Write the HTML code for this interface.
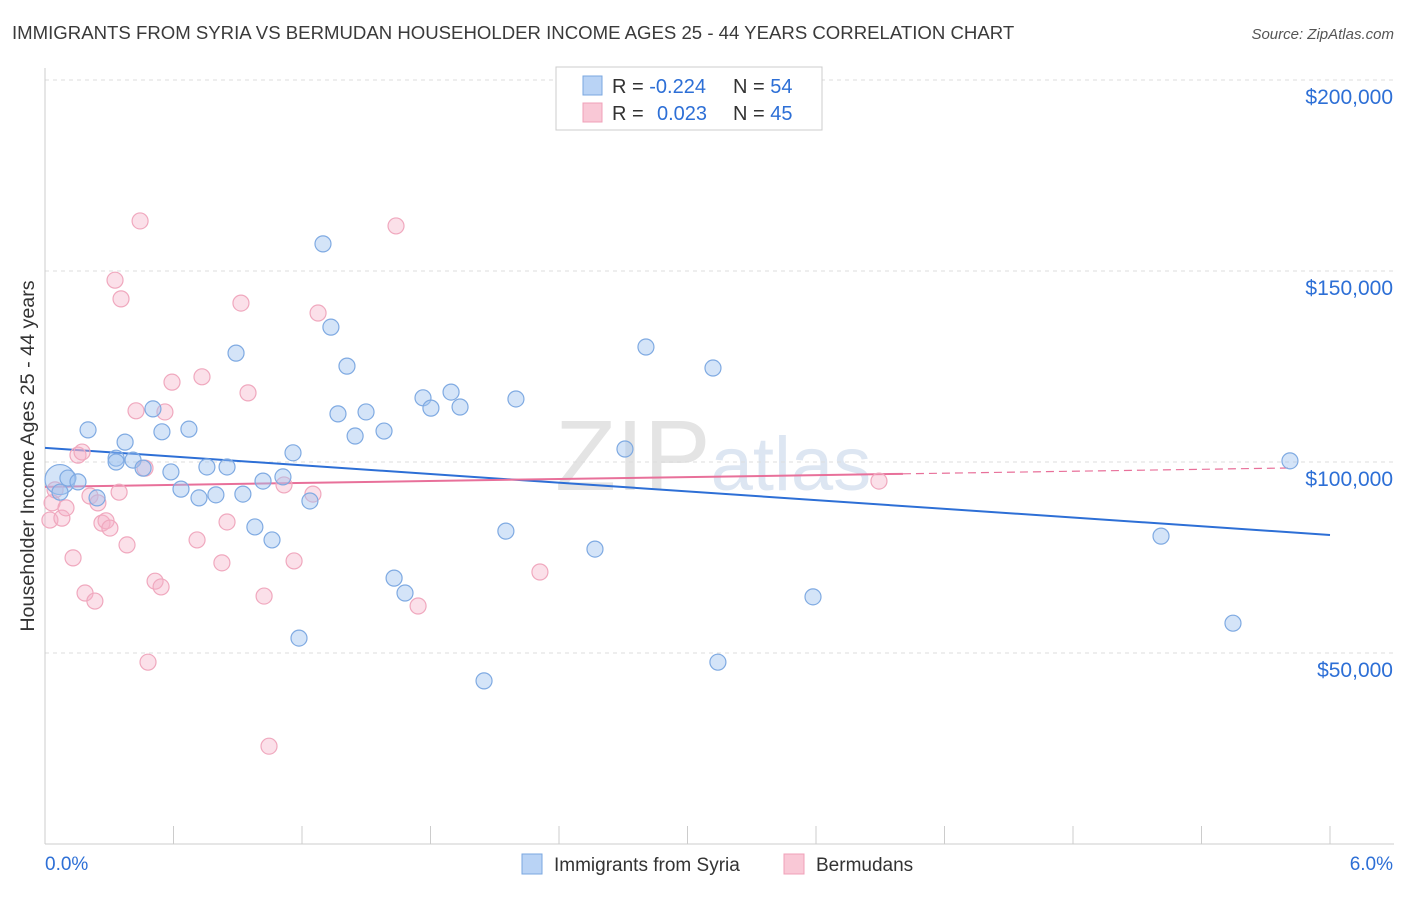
<!DOCTYPE html>
<html><head><meta charset="utf-8"><style>
body{margin:0;background:#fff;font-family:"Liberation Sans",sans-serif;}
svg text{font-family:"Liberation Sans",sans-serif;}
</style></head><body>
<svg id="chart" width="1406" height="892">
<text x="12" y="39" font-size="18.6" fill="#3a3a3a">IMMIGRANTS FROM SYRIA VS BERMUDAN HOUSEHOLDER INCOME AGES 25 - 44 YEARS CORRELATION CHART</text>
<text x="1394" y="39" font-size="15" fill="#555" font-style="italic" text-anchor="end">Source: ZipAtlas.com</text>
<text x="555" y="490" font-size="100" fill="#e4e4e4" font-family="Liberation Serif">ZIP<tspan fill="#dde6f2" font-family="Liberation Sans" font-size="76">atlas</tspan></text>
<g id="grid"></g>
<g id="axes"></g>
<g id="trend"></g>
<g id="points"></g>
<text transform="translate(34,456) rotate(-90)" font-size="19.7" fill="#333" text-anchor="middle">Householder Income Ages 25 - 44 years</text>
<g>
<rect x="556" y="67" width="266" height="63" fill="#fff" stroke="#ccc"/>
<rect x="583" y="76" width="19" height="19" fill="#b9d3f5" stroke="#7aa7e0"/>
<rect x="583" y="103" width="19" height="19" fill="#f9c8d6" stroke="#f0a0b8"/>
<text x="612" y="93" font-size="20" fill="#333">R = <tspan fill="#2d6fd6">-0.224</tspan><tspan x="733">N = </tspan><tspan fill="#2d6fd6">54</tspan></text>
<text x="612" y="120" font-size="20" fill="#333">R = <tspan x="657" fill="#2d6fd6">0.023</tspan><tspan x="733">N = </tspan><tspan fill="#2d6fd6">45</tspan></text>
</g>
<g>
<rect x="522" y="854" width="20" height="20" fill="#b9d3f5" stroke="#7aa7e0"/>
<text x="554" y="871" font-size="19" fill="#333">Immigrants from Syria</text>
<rect x="784" y="854" width="20" height="20" fill="#f9c8d6" stroke="#f0a0b8"/>
<text x="816" y="871" font-size="19" fill="#333">Bermudans</text>
</g>
</svg>
<script>
const xTicks=[0,0.6,1.2,1.8,2.4,3.0,3.6,4.2,4.8,5.4,6.0];
const yTicks=[50000,100000,150000,200000];
const yTickLabels=["$50,000","$100,000","$150,000","$200,000"];
const xEndLabels=["0.0%","6.0%"];
const syriaX=[0.07,0.070,0.107,0.154,0.201,0.243,0.332,0.332,0.374,0.411,0.458,0.504,0.546,0.588,0.635,0.672,0.719,0.756,0.798,0.850,0.892,0.924,0.980,1.018,1.060,1.111,1.158,1.186,1.237,1.298,1.335,1.368,1.410,1.448,1.499,1.583,1.630,1.681,1.765,1.802,1.896,1.938,2.050,2.152,2.199,2.568,2.708,2.806,3.119,3.142,3.586,5.211,5.547,5.813];
const syriaY=[95400,92100,95800,94800,108400,90600,101000,100000,105200,100500,98400,113900,107900,97400,92900,108600,90600,98700,91400,98700,128500,91600,83000,95000,79600,96100,102400,53900,89800,157100,135300,112600,125100,106800,113100,108100,69600,65700,116800,114100,118300,114400,42700,81900,116500,77200,103400,130100,124600,47600,64700,80600,57800,100300];
const bermX=[0.023,0.033,0.047,0.079,0.098,0.131,0.154,0.173,0.187,0.210,0.233,0.247,0.266,0.285,0.303,0.327,0.346,0.355,0.383,0.425,0.444,0.467,0.481,0.514,0.542,0.560,0.593,0.710,0.733,0.826,0.850,0.915,0.948,1.023,1.046,1.116,1.163,1.251,1.275,1.639,1.742,2.311,3.894];
const bermY=[84800,89300,92700,85300,88000,74900,101800,102600,65700,91100,63600,89300,84000,84600,82700,147600,92100,142700,78300,113400,163100,98400,47600,68800,67300,113100,120900,79600,122300,73600,84300,141600,118100,64900,25600,94000,74100,91600,139000,161800,62300,71200,95000];
const syriaTrend=[103700,80900];
const bermTrend=[93500,98600];
const bermSolidEnd=4.006, bermDashEnd=5.81;

const NS="http://www.w3.org/2000/svg";
const xs=v=>45+v/6*1285;
const ys=v=>844-v*(844-462)/100000;
function mk(tag,attrs,parent){const e=document.createElementNS(NS,tag);for(const k in attrs)e.setAttribute(k,attrs[k]);document.getElementById(parent).appendChild(e);return e;}

yTicks.forEach((t,i)=>{
  const g=mk('line',{x1:45,x2:1394,y1:ys(t),y2:ys(t),stroke:'#ddd','stroke-dasharray':'4,4'},'grid');
  
  
  const l=mk('text',{x:1393,y:ys(t)+24,'font-size':21,fill:'#2d6fd6','text-anchor':'end'},'axes');
  l.textContent=yTickLabels[i];
  
  
});
const ya=mk('line',{x1:45,x2:45,y1:68,y2:844,stroke:'#ccc'},'axes');


const xa=mk('line',{x1:45,x2:1394,y1:844,y2:844,stroke:'#ccc'},'axes');


xTicks.forEach(t=>{
  const tk=mk('line',{x1:xs(t),x2:xs(t),y1:826,y2:844,stroke:'#ccc'},'axes');
  
  
});
const xl0=mk('text',{x:45,y:870,'font-size':19,fill:'#2d6fd6'},'axes');
xl0.textContent=xEndLabels[0];


const xl1=mk('text',{x:1393,y:870,'font-size':19,fill:'#2d6fd6','text-anchor':'end'},'axes');
xl1.textContent=xEndLabels[1];



bermX.forEach((x,i)=>{
  const c=mk('circle',{cx:xs(x),cy:ys(bermY[i]),r:8,fill:'rgba(246,178,200,0.4)',stroke:'#f0a8be','stroke-width':1.2},'points');
  
  
});
syriaX.forEach((x,i)=>{
  const c=mk('circle',{cx:xs(x),cy:ys(syriaY[i]),r:i===0?15:8,fill:'rgba(160,195,240,0.45)',stroke:'#7faae2','stroke-width':1.2},'points');
  
  
});
const lin=(a,b,x)=>a+(b-a)*x/6;
const st=mk('line',{x1:xs(0),y1:ys(syriaTrend[0]),x2:xs(6),y2:ys(syriaTrend[1]),stroke:'#2d6fd6','stroke-width':2},'trend');


const bt=mk('line',{x1:xs(0),y1:ys(bermTrend[0]),x2:xs(bermSolidEnd),y2:ys(lin(bermTrend[0],bermTrend[1],bermSolidEnd)),stroke:'#e8709a','stroke-width':2},'trend');


const bd=mk('line',{x1:xs(bermSolidEnd),y1:ys(lin(bermTrend[0],bermTrend[1],bermSolidEnd)),x2:xs(bermDashEnd),y2:ys(lin(bermTrend[0],bermTrend[1],bermDashEnd)),stroke:'#e8709a','stroke-width':1.2,'stroke-dasharray':'8,5'},'trend');


</script>
</body></html>
